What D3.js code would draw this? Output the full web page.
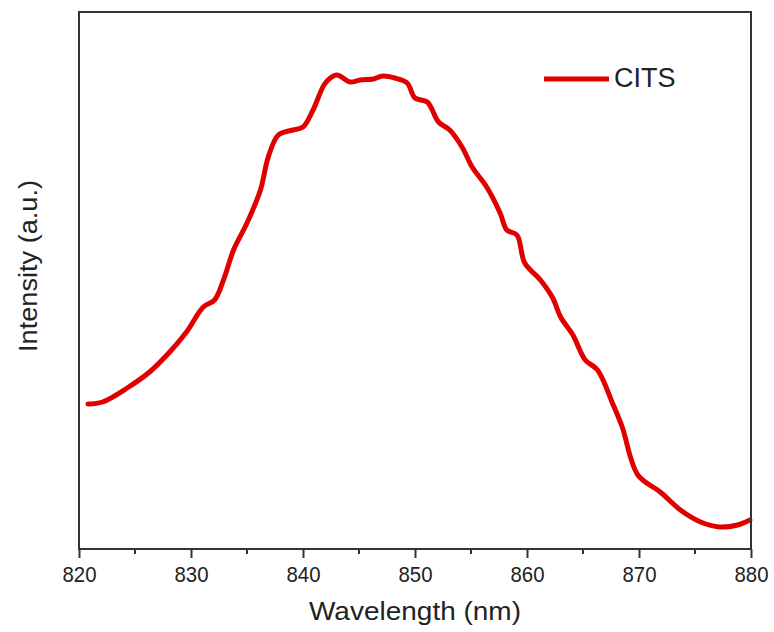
<!DOCTYPE html>
<meta charset="utf-8">
<script src="https://cdn.jsdelivr.net/npm/d3@7"></script>
<style>
	body{margin:0;background:#fff;font-family:"Liberation Sans",Arial,sans-serif;}
	.tick text{font-size:22px;fill:#222;}
</style>
<div id="chart"></div>
<script>
// wavelength (nm) and intensity (a.u.)
var wavelength = [820.8,822.1,824.3,826.3,828.1,829.6,831.1,832.1,832.9,833.8,835.0,836.2,836.9,837.8,839.1,840.0,840.9,842.0,843.0,844.2,845.1,846.3,847.1,848.2,849.3,850.0,851.1,852.1,853.1,854.2,855.1,856.4,857.6,858.2,859.1,859.8,861.2,862.3,863.0,864.1,865.2,866.3,867.7,868.5,869.9,871.9,873.7,875.5,877.2,878.8,879.9]
var intensity = [145,147,161,177,197,217,242,249,269,299,326,359,392,414,419,422,439,466,474,467,469,470,473,471,466,451,447,427,419,402,382,362,336,319,314,286,269,251,232,214,189,179,144,122,74,57,39,27,22,24,29]
var xTicks = [820,830,840,850,860,870,880]
var seriesName = "CITS"

var width = 774, height = 632
var m = {left:79, right:23, top:12, bottom:83}

var svg = d3.select("#chart").append("svg")
	.attr("width",width)
	.attr("height",height)

var xScale = d3.scaleLinear().domain([820,880]).range([m.left,width-m.right])
var yScale = d3.scaleLinear().domain([0,537]).range([height-m.bottom,m.top])

var pts = wavelength.map(function(w,i){return {x:w,y:intensity[i]}})

// curve
svg.append("path")
	.datum(pts)
	.attr("fill","none")
	.attr("stroke","#e00000")
	.attr("stroke-width",5)
	.attr("stroke-linejoin","round")
	.attr("stroke-linecap","round")
	.attr("d",d3.line()
		.curve(d3.curveCatmullRom)
		.x(function(d){return xScale(d.x)})
		.y(function(d){return yScale(d.y)}))

// frame
svg.append("rect")
	.attr("x",m.left).attr("y",m.top)
	.attr("width",width-m.right-m.left)
	.attr("height",height-m.bottom-m.top)
	.attr("fill","none")
	.attr("stroke","#333")
	.attr("stroke-width",2)

// minor ticks
var minor = d3.range(825,880,10)
svg.append("g").selectAll("line").data(minor).enter().append("line")
	.attr("x1",function(d){return xScale(d)}).attr("x2",function(d){return xScale(d)})
	.attr("y1",height-m.bottom).attr("y2",height-m.bottom+5)
	.attr("stroke","#333").attr("stroke-width",2)

var xAxis = d3.axisBottom(xScale).tickValues(xTicks).tickSize(9).tickPadding(8).tickFormat(d3.format("d"))
var gx = svg.append("g")
	.attr("transform","translate(0,"+(height-m.bottom)+")")
	.call(xAxis)
gx.select(".domain").remove()
gx.selectAll(".tick line").attr("stroke","#333").attr("stroke-width",2)
gx.selectAll(".tick text").style("font-family","'Liberation Sans',Arial,sans-serif")
	.attr("textLength",34).attr("lengthAdjust","spacingAndGlyphs")

// axis titles
svg.append("text")
	.attr("x",415)
	.attr("y",620)
	.attr("text-anchor","middle")
	.style("font-size","26px").style("fill","#222")
	.attr("textLength",212).attr("lengthAdjust","spacingAndGlyphs")
	.text("Wavelength (nm)")

svg.append("text")
	.attr("transform","translate(37,266) rotate(-90)")
	.attr("text-anchor","middle")
	.style("font-size","26px").style("fill","#222")
	.attr("textLength",172).attr("lengthAdjust","spacingAndGlyphs")
	.text("Intensity (a.u.)")

// legend
svg.append("line")
	.attr("x1",544).attr("x2",609).attr("y1",79).attr("y2",79)
	.attr("stroke","#e00000").attr("stroke-width",5)
svg.append("text")
	.attr("x",614).attr("y",87)
	.style("font-size","27px").style("fill","#222")
	.text(seriesName)
</script>
